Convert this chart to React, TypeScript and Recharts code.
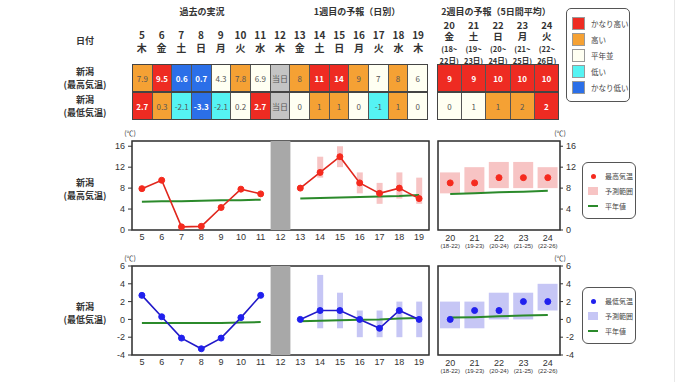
import React from 'react';
import { ComposedChart, Line, Bar, XAxis, YAxis, CartesianGrid, ReferenceArea } from 'recharts';

const week1Days = [5, 6, 7, 8, 9, 10, 11, 12, 13, 14, 15, 16, 17, 18, 19];
const week1Weekdays = ['木', '金', '土', '日', '月', '火', '水', '木', '金', '土', '日', '月', '火', '水', '木'];
const todayDay = 12;
const observedCount = 7;

const week2Days = [20, 21, 22, 23, 24];
const week2Weekdays = ['金', '土', '日', '月', '火'];
const week2From = [18, 19, 20, 21, 22];
const week2To = [22, 23, 24, 25, 26];

// 最高気温
const maxTemp = [7.9, 9.5, 0.6, 0.7, 4.3, 7.8, 6.9, null, 8, 11, 14, 9, 7, 8, 6];
const maxNormal = [5.4, 5.5, 5.5, 5.6, 5.7, 5.7, 5.8, null, 6.0, 6.1, 6.2, 6.3, 6.4, 6.5, 6.7];
const maxLow = [null, null, null, null, null, null, null, null, null, 10, 12, 7, 5, 6, 5];
const maxHigh = [null, null, null, null, null, null, null, null, null, 14, 16, 11, 9, 11, 10];
const maxClass = ['o', 'r', 'b', 'b', 'n', 'o', 'n', 't', 'o', 'r', 'r', 'o', 'n', 'o', 'n'];

const maxW2 = [9, 9, 10, 10, 10];
const maxW2Normal = [6.9, 7.0, 7.2, 7.3, 7.5];
const maxW2Low = [7, 7, 8, 8, 8];
const maxW2High = [11, 12, 13, 13, 12];
const maxW2Class = ['r', 'r', 'r', 'r', 'r'];

// 最低気温
const minTemp = [2.7, 0.3, -2.1, -3.3, -2.1, 0.2, 2.7, null, 0, 1, 1, 0, -1, 1, 0];
const minNormal = [-0.4, -0.4, -0.4, -0.4, -0.4, -0.35, -0.3, null, -0.2, -0.15, -0.1, -0.05, 0, 0.1, 0.15];
const minLow = [null, null, null, null, null, null, null, null, null, -1, -1, -2, -2, -2, -2];
const minHigh = [null, null, null, null, null, null, null, null, null, 5, 3, 1, 1, 2, 2];
const minClass = ['r', 'o', 'c', 'b', 'c', 'n', 'r', 't', 'n', 'o', 'o', 'n', 'c', 'o', 'n'];

const minW2 = [0, 1, 1, 2, 2];
const minW2Normal = [0.2, 0.25, 0.35, 0.45, 0.5];
const minW2Low = [-1, -1, 0, 0, 1];
const minW2High = [2, 2, 3, 3, 4];
const minW2Class = ['n', 'n', 'o', 'o', 'r'];

const classKeys = ['r', 'o', 'n', 'c', 'b'];
const classNames = ['かなり高い', '高い', '平年並', '低い', 'かなり低い'];
const classColors: Record<string, string> = {
  r: '#ee2b22',
  o: '#f5a134',
  n: '#fffff2',
  c: '#55f3f3',
  b: '#2b6fe8',
  t: '#c4c4c4',
};

const jp = "'Noto Sans CJK JP', sans-serif";
const num = "'Liberation Sans', Arial, sans-serif";
const txt = '#333';
const normalColor = '#2b8a2b';

const cellText = (v: number | null, i: number) => {
  if (v == null) return '当日';
  return i < observedCount ? v.toFixed(1) : String(v);
};

const TableRow = ({ values, classes, cols, left, top, width, format }: any) => (
  <div style={{
    position: 'absolute', left, top, width, height: 28,
    display: 'grid', gridTemplateColumns: `repeat(${cols}, 1fr)`, gap: 1,
    background: '#555', border: '1px solid #444', boxSizing: 'border-box',
  }}>
    {values.map((v: any, i: number) => {
      const c = classes[i];
      const strong = c === 'r' || c === 'b';
      return (
        <div key={i} style={{
          background: classColors[c], display: 'flex', alignItems: 'center', justifyContent: 'center',
          fontSize: 8, fontFamily: jp, color: strong ? '#fff' : '#555', fontWeight: strong ? 700 : 400,
        }}>
          {format(v, i)}
        </div>
      );
    })}
  </div>
);

const Week2Tick = ({ x, y, payload }: any) => {
  const i = week2Days.indexOf(payload.value);
  return (
    <g>
      <text x={x} y={y + 9.5} textAnchor="middle" fontSize={9} fill={txt} fontFamily={num}>{payload.value}</text>
      <text x={x} y={y + 16.5} textAnchor="middle" fontSize={6} fill={txt} fontFamily={num}>
        ({week2From[i]}-{week2To[i]})
      </text>
    </g>
  );
};

const Week1Panel = ({ temps, normals, lows, highs, domain, labelTicks, gridTicks, lineColor, dotColor, rangeColor }: any) => {
  const data = week1Days.map((day, i) => ({
    day,
    temp: temps[i],
    normal: normals[i],
    range: lows[i] == null ? null : [lows[i], highs[i]],
  }));
  const bounds = week1Days.slice(1).map((d) => d - 0.5);
  const xDomain = [week1Days[0] - 0.5, week1Days[week1Days.length - 1] + 0.5];
  return (
    <ComposedChart width={375} height={126} data={data} margin={{ top: 10, right: 6, bottom: 0, left: 0 }}>
      <XAxis xAxisId="t" orientation="top" dataKey="day" type="number" domain={xDomain} ticks={bounds}
        height={1} tick={false} axisLine={false} tickSize={3} stroke="#333" />
      <XAxis xAxisId="g" dataKey="day" type="number" domain={xDomain} ticks={bounds}
        height={4} tick={false} axisLine={false} tickSize={3} stroke="#333" />
      <XAxis xAxisId="d" dataKey="day" type="number" domain={xDomain} ticks={week1Days} interval={0}
        height={22} tickLine={false} axisLine={false} tickSize={0} tickMargin={4}
        tick={{ fontSize: 9, fill: txt, fontFamily: num }} />
      <YAxis yAxisId="v" type="number" domain={domain} ticks={labelTicks} interval={0} width={72}
        axisLine={false} tickSize={4} tickMargin={3} stroke="#333"
        tick={{ fontSize: 9, fill: txt, fontFamily: num }} />
      <YAxis yAxisId="g" hide orientation="right" type="number" domain={domain} ticks={gridTicks} />
      <CartesianGrid xAxisId="g" yAxisId="g" stroke="#cfcfcf" />
      <Bar xAxisId="d" yAxisId="v" dataKey="range" barSize={6} fill={rangeColor} isAnimationActive={false} />
      <Line xAxisId="d" yAxisId="v" dataKey="normal" stroke={normalColor} strokeWidth={2} dot={false}
        isAnimationActive={false} />
      <Line xAxisId="d" yAxisId="v" dataKey="temp" stroke={lineColor} strokeWidth={1.6}
        dot={{ r: 3, fill: dotColor, stroke: dotColor, strokeWidth: 1 }} isAnimationActive={false} />
      <ReferenceArea xAxisId="d" yAxisId="v" x1={xDomain[0]} x2={xDomain[1]} y1={domain[0]} y2={domain[1]}
        fill="none" stroke="#333" strokeWidth={1.5} ifOverflow="visible" />
      <ReferenceArea xAxisId="d" yAxisId="v" x1={todayDay - 0.5} x2={todayDay + 0.5} y1={domain[0]} y2={domain[1]}
        fill="#a8a8a8" fillOpacity={1} stroke="none" ifOverflow="visible" />
    </ComposedChart>
  );
};

const Week2Panel = ({ temps, normals, lows, highs, domain, labelTicks, gridTicks, dotColor, rangeColor }: any) => {
  const data = week2Days.map((day, i) => ({
    day,
    temp: temps[i],
    normal: normals[i],
    range: [lows[i], highs[i]],
  }));
  const bounds = week2Days.slice(1).map((d) => d - 0.5);
  const xDomain = [week2Days[0] - 0.5, week2Days[week2Days.length - 1] + 0.5];
  return (
    <ComposedChart width={160} height={126} data={data} margin={{ top: 10, right: 0, bottom: 0, left: 8 }}>
      <XAxis xAxisId="t" orientation="top" dataKey="day" type="number" domain={xDomain} ticks={bounds}
        height={1} tick={false} axisLine={false} tickSize={3} stroke="#333" />
      <XAxis xAxisId="g" dataKey="day" type="number" domain={xDomain} ticks={bounds}
        height={4} tick={false} axisLine={false} tickSize={3} stroke="#333" />
      <XAxis xAxisId="d" dataKey="day" type="number" domain={xDomain} ticks={week2Days} interval={0}
        height={22} tickLine={false} axisLine={false} tickSize={0} tickMargin={1} tick={<Week2Tick />} />
      <YAxis yAxisId="g" hide type="number" domain={domain} ticks={gridTicks} />
      <YAxis yAxisId="v" orientation="right" type="number" domain={domain} ticks={labelTicks} interval={0}
        width={30} axisLine={false} tickSize={3} tickMargin={3} stroke="#333"
        tick={{ fontSize: 9, fill: txt, fontFamily: num }} />
      <CartesianGrid xAxisId="g" yAxisId="g" stroke="#cfcfcf" />
      <Bar xAxisId="d" yAxisId="v" dataKey="range" barSize={20} fill={rangeColor} isAnimationActive={false} />
      <Line xAxisId="d" yAxisId="v" dataKey="normal" stroke={normalColor} strokeWidth={2} dot={false}
        isAnimationActive={false} />
      <Line xAxisId="d" yAxisId="v" dataKey="temp" stroke="none"
        dot={{ r: 3, fill: dotColor, stroke: dotColor, strokeWidth: 1 }} isAnimationActive={false} />
      <ReferenceArea xAxisId="d" yAxisId="v" x1={xDomain[0]} x2={xDomain[1]} y1={domain[0]} y2={domain[1]}
        fill="none" stroke="#333" strokeWidth={1.5} ifOverflow="visible" />
    </ComposedChart>
  );
};

const SeriesLegend = ({ top, name, dotColor, rangeColor }: any) => {
  const row = (y: number, mark: React.ReactNode, label: string) => (
    <div style={{ position: 'absolute', left: 0, top: y - 6, height: 12, width: 54 }}>
      <div style={{ position: 'absolute', left: 4, top: 0, width: 12, height: 12, display: 'flex', alignItems: 'center', justifyContent: 'center' }}>
        {mark}
      </div>
      <div style={{ position: 'absolute', left: 22, top: 0, lineHeight: '12px', fontSize: 7, color: '#444', fontFamily: jp, whiteSpace: 'nowrap' }}>
        {label}
      </div>
    </div>
  );
  return (
    <div style={{ position: 'absolute', left: 582, top, width: 54, height: 57, border: '1px solid #555', borderRadius: 6, boxSizing: 'border-box', background: '#fff' }}>
      {row(13, <div style={{ width: 5, height: 5, borderRadius: 3, background: dotColor }} />, name)}
      {row(28, <div style={{ width: 10, height: 8, background: rangeColor }} />, '予測範囲')}
      {row(43, <div style={{ width: 10, height: 2, background: normalColor }} />, '平年値')}
    </div>
  );
};

const Label2 = ({ top, lines, lineHeight }: any) => (
  <div style={{ position: 'absolute', left: 45, top, width: 80, textAlign: 'center', fontSize: 9, lineHeight: `${lineHeight}px`, fontWeight: 700, color: txt, fontFamily: jp }}>
    {lines.map((l: string, i: number) => <div key={i}>{l}</div>)}
  </div>
);

const Abs = ({ left, top, width, children, style }: any) => (
  <div style={{ position: 'absolute', left, top, width, textAlign: 'center', fontFamily: jp, color: txt, ...style }}>{children}</div>
);

export default function App() {
  const w1Left = 132;
  const w1Width = 296;
  const w2Left = 437;
  const w2Width = 122;
  return (
    <div style={{ position: 'absolute', left: 0, top: 0, width: 680, height: 382, background: '#fff', overflow: 'hidden', fontFamily: jp }}>
      <div style={{ position: 'absolute', left: 674, top: 0, width: 1, height: 382, background: '#e8e8e8' }} />

      {/* 見出し */}
      <Abs left={150} top={5} width={104} style={{ fontSize: 9, fontWeight: 700, lineHeight: '13px' }}>過去の実況</Abs>
      <Abs left={300} top={5} width={114} style={{ fontSize: 9, fontWeight: 700, lineHeight: '13px' }}>1週目の予報（日別）</Abs>
      <Abs left={432} top={5} width={128} style={{ fontSize: 9, fontWeight: 700, lineHeight: '13px' }}>2週目の予報（5日間平均）</Abs>

      <Label2 top={34} lines={['日付']} lineHeight={13} />
      <Label2 top={65} lines={['新潟', '(最高気温)']} lineHeight={13} />
      <Label2 top={93} lines={['新潟', '(最低気温)']} lineHeight={13} />

      <div style={{ position: 'absolute', left: w1Left, top: 27.5, width: w1Width, display: 'grid', gridTemplateColumns: 'repeat(15, 1fr)' }}>
        {week1Days.map((d, i) => (
          <div key={d} style={{ textAlign: 'center', fontSize: 10, fontWeight: 700, lineHeight: '13px', color: txt }}>
            <div>{d}</div>
            <div>{week1Weekdays[i]}</div>
          </div>
        ))}
      </div>
      <div style={{ position: 'absolute', left: w2Left, top: 19.5, width: w2Width, display: 'grid', gridTemplateColumns: 'repeat(5, 1fr)' }}>
        {week2Days.map((d, i) => (
          <div key={d} style={{ textAlign: 'center', fontWeight: 700, lineHeight: '11.8px', color: txt }}>
            <div style={{ fontSize: 9.5 }}>{d}</div>
            <div style={{ fontSize: 9.5 }}>{week2Weekdays[i]}</div>
            <div style={{ fontSize: 7.5, fontWeight: 600 }}>({week2From[i]}~</div>
            <div style={{ fontSize: 7.5, fontWeight: 600 }}>{week2To[i]}日)</div>
          </div>
        ))}
      </div>

      <TableRow values={maxTemp} classes={maxClass} cols={15} left={w1Left} top={64} width={w1Width} format={cellText} />
      <TableRow values={minTemp} classes={minClass} cols={15} left={w1Left} top={92} width={w1Width} format={cellText} />
      <TableRow values={maxW2} classes={maxW2Class} cols={5} left={w2Left} top={64} width={w2Width} format={(v: number) => String(v)} />
      <TableRow values={minW2} classes={minW2Class} cols={5} left={w2Left} top={92} width={w2Width} format={(v: number) => String(v)} />

      {/* 階級の凡例 */}
      <div style={{ position: 'absolute', left: 566, top: 8, width: 64, height: 94, border: '1px solid #555', borderRadius: 5, boxSizing: 'border-box' }}>
        {classKeys.map((k, i) => (
          <div key={k} style={{ position: 'absolute', left: 5, top: 7 + i * 16, height: 14, display: 'flex', alignItems: 'center' }}>
            <div style={{ width: 13, height: 13, background: classColors[k], border: '1px solid #999', boxSizing: 'border-box' }} />
            <div style={{ marginLeft: 6, fontSize: 7.5, color: '#444', whiteSpace: 'nowrap' }}>{classNames[i]}</div>
          </div>
        ))}
      </div>

      {/* 最高気温 */}
      <Label2 top={176} lines={['新潟', '(最高気温)']} lineHeight={13} />
      <Abs left={120} top={128} width={20} style={{ fontSize: 7, lineHeight: '10px' }}>(℃)</Abs>
      <Abs left={550} top={128} width={20} style={{ fontSize: 7, lineHeight: '10px' }}>(℃)</Abs>
      <div style={{ position: 'absolute', left: 60, top: 130 }}>
        <Week1Panel temps={maxTemp} normals={maxNormal} lows={maxLow} highs={maxHigh}
          domain={[0, 17]} labelTicks={[0, 4, 8, 12, 16]} gridTicks={[0, 2, 4, 6, 8, 10, 12, 14, 16]}
          lineColor="#e0261c" dotColor="#f52a1e" rangeColor="#f7c4c4" />
      </div>
      <div style={{ position: 'absolute', left: 430, top: 130 }}>
        <Week2Panel temps={maxW2} normals={maxW2Normal} lows={maxW2Low} highs={maxW2High}
          domain={[0, 17]} labelTicks={[0, 4, 8, 12, 16]} gridTicks={[0, 2, 4, 6, 8, 10, 12, 14, 16]}
          dotColor="#f52a1e" rangeColor="#f7c4c4" />
      </div>
      <SeriesLegend top={162} name="最高気温" dotColor="#f52a1e" rangeColor="#f7c4c4" />

      {/* 最低気温 */}
      <Label2 top={301} lines={['新潟', '(最低気温)']} lineHeight={12.5} />
      <Abs left={120} top={253} width={20} style={{ fontSize: 7, lineHeight: '10px' }}>(℃)</Abs>
      <Abs left={550} top={253} width={20} style={{ fontSize: 7, lineHeight: '10px' }}>(℃)</Abs>
      <div style={{ position: 'absolute', left: 60, top: 255 }}>
        <Week1Panel temps={minTemp} normals={minNormal} lows={minLow} highs={minHigh}
          domain={[-4, 6]} labelTicks={[-4, -2, 0, 2, 4, 6]} gridTicks={[-4, -2, 0, 2, 4, 6]}
          lineColor="#2118c8" dotColor="#2020ee" rangeColor="#c6c6f5" />
      </div>
      <div style={{ position: 'absolute', left: 430, top: 255 }}>
        <Week2Panel temps={minW2} normals={minW2Normal} lows={minW2Low} highs={minW2High}
          domain={[-4, 6]} labelTicks={[-4, -2, 0, 2, 4, 6]} gridTicks={[-4, -2, 0, 2, 4, 6]}
          dotColor="#2020ee" rangeColor="#c6c6f5" />
      </div>
      <SeriesLegend top={287} name="最低気温" dotColor="#2020ee" rangeColor="#c6c6f5" />
    </div>
  );
}
